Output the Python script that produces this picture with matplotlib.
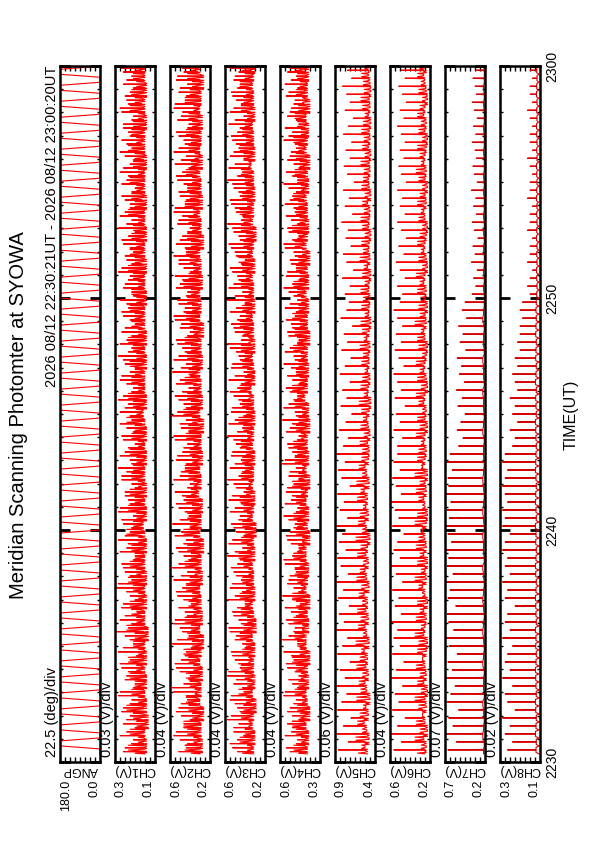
import numpy as np
import matplotlib
matplotlib.use("Agg")
import matplotlib.pyplot as plt

plt.rcParams['font.family'] = ['Liberation Sans', 'DejaVu Sans']

# ---------------- data ----------------
TITLE = "Meridian Scanning Photomter at SYOWA"
DATE_TEXT = "2026 08/12 22:30:21UT - 2026 08/12 23:00:20UT"
TIME_LABEL = "TIME(UT)"
TIME_TICKS = [0, 10, 20, 30]                 # minutes after 22:30
TIME_TICK_LABELS = ["2230", "2240", "2250", "2300"]
SCAN_START_MIN = 21 / 60.0                    # 22:30:21
SCAN_END_MIN = 30 + 20 / 60.0                 # 23:00:20

PANEL_NAMES = ["ANGP", "CH1(V)", "CH2(V)", "CH3(V)", "CH4(V)",
               "CH5(V)", "CH6(V)", "CH7(V)", "CH8(V)"]
DIV_TEXT = ["22.5 (deg)/div", "0.03 (V)/div", "0.04 (V)/div", "0.04 (V)/div",
            "0.04 (V)/div", "0.06 (V)/div", "0.04 (V)/div", "0.07 (V)/div",
            "0.02 (V)/div"]
VMAX = [180.0, 0.34, 0.57, 0.57, 0.60, 0.88, 0.56, 0.74, 0.30]
VMIN = [0.0, 0.10, 0.25, 0.25, 0.28, 0.40, 0.24, 0.18, 0.14]
VMAX_LABEL = ["180.0", "0.3", "0.6", "0.6", "0.6", "0.9", "0.6", "0.7", "0.3"]
VMIN_LABEL = ["0.0", "0.1", "0.2", "0.2", "0.3", "0.4", "0.2", "0.2", "0.1"]

# scan angle at the turning points of each scan
ANGP_TURN = [0, 180] * 44

CH1_BASE = [0.16,0.15,0.17,0.16,0.14,0.18,0.15,0.16,0.17,0.15,
            0.16,0.18,0.15,0.17,0.16,0.14,0.17,0.16,0.18,0.15,
            0.17,0.16,0.15,0.18,0.16,0.17,0.15,0.16,0.18,0.17,
            0.15,0.16,0.17,0.15,0.18,0.16,0.17,0.15,
            0.16,0.17,0.15,0.16,0.18,0.17,0.15,0.16,0.17,0.16,
            0.18,0.15,0.16,0.17,0.15,0.16,0.18,0.16,0.17,
            0.15,0.16,0.17,0.16,0.15,0.18,0.16,0.17,0.15,0.16,
            0.17,0.16,0.15,0.18,0.16,0.17,0.16,0.15,0.17,0.16,
            0.18,0.16,0.15,0.17,0.16,0.18,0.15,0.16,0.17,0.16]
CH1_PEAK = [0.29,0.24,0.31,0.22,0.27,0.30,0.25,0.32,0.23,0.28,
            0.26,0.31,0.21,0.29,0.25,0.33,0.24,0.28,0.30,0.22,
            0.27,0.32,0.25,0.29,0.23,0.31,0.26,0.28,0.24,0.30,
            0.32,0.25,0.28,0.22,0.30,0.27,0.24,0.31,
            0.26,0.29,0.23,0.31,0.25,0.28,0.32,0.24,0.27,0.30,
            0.22,0.29,0.26,0.31,0.24,0.28,0.25,0.30,0.27,
            0.23,0.29,0.26,0.32,0.24,0.28,0.25,0.30,0.22,0.27,
            0.31,0.25,0.28,0.24,0.30,0.26,0.29,0.23,0.31,0.27,
            0.25,0.29,0.24,0.30,0.26,0.28,0.23,0.27,0.29,0.25]
CH1_PEAK2 = [0.22,0.26,0.20,0.25,0.21,0.23,0.27,0.20,0.24,0.22,
             0.25,0.21,0.26,0.20,0.23,0.22,0.27,0.21,0.24,0.25,
             0.20,0.23,0.26,0.21,0.25,0.22,0.24,0.20,0.27,0.23,
             0.21,0.26,0.22,0.25,0.20,0.24,0.23,0.21,
             0.25,0.20,0.24,0.22,0.27,0.21,0.23,0.26,0.20,0.24,
             0.22,0.25,0.21,0.23,0.26,0.20,0.24,0.22,0.25,
             0.21,0.24,0.20,0.23,0.26,0.22,0.25,0.21,0.24,0.23,
             0.20,0.26,0.22,0.24,0.21,0.25,0.20,0.23,0.22,0.26,
             0.21,0.24,0.23,0.20,0.25,0.22,0.24,0.21,0.23,0.22]

CH2_BASE = [0.33,0.31,0.35,0.32,0.34,0.30,0.33,0.36,0.32,0.34,
            0.31,0.33,0.35,0.32,0.30,0.34,0.33,0.31,0.36,0.32,
            0.34,0.33,0.31,0.35,0.32,0.34,0.30,0.33,0.35,0.32,
            0.33,0.31,0.34,0.36,0.32,0.33,0.35,0.31,
            0.34,0.32,0.33,0.30,0.35,0.33,0.31,0.34,0.32,0.36,
            0.33,0.31,0.34,0.32,0.35,0.30,0.33,0.34,0.32,
            0.35,0.33,0.31,0.34,0.32,0.36,0.33,0.30,0.34,0.32,
            0.33,0.35,0.31,0.34,0.32,0.33,0.36,0.31,0.34,0.33,
            0.32,0.34,0.31,0.35,0.33,0.32,0.34,0.30,0.33,0.35]
CH2_PEAK = [0.50,0.43,0.54,0.46,0.41,0.52,0.48,0.44,0.55,0.42,
            0.49,0.53,0.45,0.40,0.51,0.47,0.54,0.43,0.50,0.46,
            0.52,0.44,0.48,0.55,0.42,0.50,0.46,0.53,0.41,0.49,
            0.45,0.52,0.47,0.43,0.54,0.48,0.44,0.51,
            0.46,0.53,0.42,0.49,0.55,0.44,0.50,0.47,0.52,0.41,
            0.48,0.54,0.45,0.51,0.43,0.49,0.53,0.46,0.50,
            0.44,0.52,0.47,0.41,0.50,0.54,0.45,0.49,0.43,0.51,
            0.47,0.53,0.44,0.50,0.46,0.52,0.42,0.48,0.54,0.45,
            0.50,0.43,0.51,0.47,0.53,0.44,0.49,0.52,0.46,0.48]
CH2_PEAK2 = [0.40,0.45,0.38,0.43,0.46,0.39,0.42,0.44,0.37,0.41,
             0.44,0.38,0.42,0.46,0.39,0.43,0.40,0.45,0.38,0.42,
             0.39,0.44,0.41,0.37,0.45,0.40,0.43,0.38,0.46,0.41,
             0.43,0.39,0.44,0.40,0.38,0.42,0.45,0.39,
             0.41,0.38,0.44,0.42,0.39,0.46,0.40,0.43,0.38,0.45,
             0.42,0.39,0.43,0.40,0.45,0.38,0.41,0.44,0.39,
             0.43,0.40,0.46,0.42,0.38,0.41,0.44,0.40,0.43,0.39,
             0.42,0.38,0.45,0.41,0.43,0.39,0.44,0.40,0.37,0.42,
             0.40,0.44,0.39,0.42,0.38,0.45,0.41,0.39,0.43,0.40]

CH3_BASE = [0.34,0.36,0.33,0.35,0.37,0.34,0.32,0.36,0.35,0.33,
            0.36,0.34,0.37,0.33,0.35,0.36,0.32,0.34,0.37,0.35,
            0.33,0.36,0.34,0.35,0.37,0.33,0.36,0.34,0.32,0.35,
            0.36,0.34,0.33,0.37,0.35,0.34,0.36,0.33,
            0.35,0.37,0.34,0.36,0.33,0.35,0.34,0.37,0.36,0.33,
            0.34,0.36,0.35,0.33,0.37,0.34,0.35,0.36,0.33,
            0.36,0.34,0.35,0.37,0.33,0.35,0.36,0.34,0.32,0.35,
            0.37,0.34,0.36,0.33,0.35,0.34,0.36,0.37,0.33,0.35,
            0.34,0.36,0.35,0.33,0.37,0.34,0.35,0.36,0.34,0.33]
CH3_PEAK = [0.47,0.53,0.42,0.50,0.55,0.45,0.49,0.52,0.43,0.48,
            0.54,0.46,0.51,0.41,0.49,0.53,0.44,0.50,0.47,0.55,
            0.43,0.51,0.48,0.52,0.45,0.49,0.54,0.42,0.50,0.46,
            0.53,0.44,0.51,0.48,0.55,0.43,0.49,0.52,
            0.45,0.50,0.47,0.54,0.42,0.51,0.46,0.53,0.44,0.49,
            0.52,0.45,0.48,0.55,0.43,0.50,0.47,0.53,0.41,
            0.49,0.54,0.46,0.51,0.44,0.48,0.52,0.45,0.50,0.55,
            0.43,0.49,0.53,0.46,0.51,0.47,0.54,0.42,0.50,0.48,
            0.52,0.45,0.49,0.53,0.44,0.51,0.47,0.50,0.46,0.52]
CH3_PEAK2 = [0.43,0.39,0.45,0.41,0.38,0.44,0.42,0.40,0.46,0.39,
             0.41,0.44,0.38,0.43,0.40,0.45,0.42,0.39,0.44,0.41,
             0.45,0.40,0.43,0.38,0.42,0.46,0.39,0.44,0.41,0.43,
             0.39,0.42,0.45,0.40,0.38,0.44,0.41,0.43,
             0.40,0.44,0.39,0.42,0.46,0.40,0.43,0.38,0.45,0.41,
             0.39,0.43,0.41,0.44,0.38,0.42,0.45,0.40,0.43,
             0.41,0.38,0.44,0.40,0.43,0.46,0.39,0.42,0.40,0.44,
             0.42,0.45,0.39,0.43,0.40,0.41,0.44,0.38,0.42,0.45,
             0.40,0.43,0.41,0.39,0.44,0.42,0.40,0.45,0.41,0.43]

CH4_BASE = [0.38,0.40,0.37,0.39,0.41,0.36,0.38,0.40,0.39,0.37,
            0.41,0.38,0.36,0.40,0.39,0.42,0.37,0.38,0.40,0.36,
            0.39,0.41,0.38,0.37,0.40,0.39,0.42,0.36,0.38,0.41,
            0.37,0.39,0.40,0.38,0.36,0.41,0.39,0.37,
            0.40,0.38,0.41,0.36,0.39,0.37,0.40,0.42,0.38,0.39,
            0.37,0.40,0.38,0.41,0.36,0.39,0.38,0.40,0.37,
            0.39,0.41,0.37,0.38,0.40,0.36,0.39,0.42,0.38,0.37,
            0.40,0.38,0.39,0.41,0.37,0.38,0.40,0.36,0.39,0.41,
            0.38,0.37,0.40,0.39,0.36,0.41,0.38,0.39,0.37,0.40]
CH4_PEAK = [0.52,0.47,0.56,0.50,0.45,0.54,0.49,0.57,0.46,0.53,
            0.48,0.55,0.51,0.44,0.58,0.49,0.53,0.47,0.56,0.50,
            0.45,0.54,0.52,0.48,0.57,0.46,0.51,0.55,0.49,0.53,
            0.47,0.56,0.50,0.54,0.45,0.52,0.58,0.48,
            0.53,0.46,0.55,0.50,0.47,0.57,0.49,0.52,0.45,0.54,
            0.51,0.48,0.56,0.46,0.53,0.50,0.55,0.47,0.52,
            0.49,0.57,0.45,0.54,0.51,0.48,0.56,0.50,0.53,0.46,
            0.55,0.49,0.52,0.47,0.57,0.50,0.45,0.54,0.51,0.48,
            0.53,0.56,0.47,0.52,0.49,0.55,0.46,0.51,0.54,0.50]
CH4_PEAK2 = [0.45,0.49,0.43,0.47,0.50,0.44,0.46,0.42,0.48,0.45,
             0.43,0.47,0.50,0.44,0.46,0.48,0.42,0.49,0.45,0.47,
             0.50,0.43,0.46,0.48,0.44,0.49,0.45,0.42,0.47,0.46,
             0.49,0.44,0.47,0.43,0.50,0.45,0.42,0.48,
             0.46,0.49,0.43,0.47,0.45,0.42,0.48,0.46,0.50,0.44,
             0.47,0.45,0.43,0.49,0.46,0.48,0.44,0.50,0.45,
             0.43,0.46,0.49,0.44,0.47,0.45,0.42,0.48,0.46,0.50,
             0.44,0.47,0.45,0.49,0.43,0.46,0.48,0.44,0.47,0.45,
             0.49,0.43,0.46,0.48,0.45,0.42,0.47,0.44,0.46,0.48]

CH5_BASE = [0.49,0.52,0.47,0.50,0.53,0.48,0.51,0.46,0.50,0.52,
            0.48,0.51,0.49,0.53,0.47,0.50,0.52,0.48,0.51,0.49,
            0.53,0.47,0.50,0.52,0.48,0.51,0.49,0.46,0.50,0.52,
            0.48,0.51,0.49,0.53,0.47,0.50,0.52,0.48,
            0.47,0.49,0.46,0.48,0.50,0.47,0.45,0.49,0.48,0.46,
            0.49,0.47,0.48,0.46,0.50,0.47,0.45,0.48,0.47,
            0.46,0.48,0.47,0.45,0.49,0.46,0.48,0.47,0.45,0.48,
            0.47,0.46,0.49,0.45,0.47,0.48,0.46,0.47,0.45,0.48,
            0.46,0.47,0.45,0.48,0.46,0.47,0.45,0.46,0.48,0.47]
CH5_PEAK = [0.84,0.72,0.86,0.78,0.69,0.85,0.80,0.74,0.87,0.76,
            0.82,0.70,0.85,0.79,0.73,0.86,0.77,0.83,0.71,0.84,
            0.78,0.86,0.72,0.81,0.85,0.75,0.83,0.79,0.86,0.73,
            0.82,0.77,0.85,0.70,0.80,0.84,0.76,0.86,
            0.78,0.72,0.83,0.75,0.68,0.81,0.74,0.79,0.70,0.82,
            0.76,0.69,0.80,0.73,0.77,0.67,0.81,0.74,0.71,
            0.76,0.70,0.79,0.66,0.74,0.78,0.69,0.75,0.72,0.80,
            0.67,0.76,0.71,0.78,0.65,0.73,0.77,0.70,0.75,0.68,
            0.78,0.72,0.66,0.76,0.70,0.74,0.79,0.68,0.73,0.71]
CH5_PEAK2 = [0.60,0.56,0.63,0.55,0.61,0.58,0.54,0.62,0.57,0.59,
             0.55,0.62,0.58,0.56,0.63,0.54,0.60,0.57,0.61,0.55,
             0.59,0.56,0.62,0.58,0.54,0.61,0.57,0.63,0.55,0.60,
             0.58,0.54,0.61,0.57,0.62,0.55,0.59,0.56,
             0.55,0.58,0.53,0.57,0.54,0.56,0.59,0.53,0.57,0.55,
             0.52,0.56,0.54,0.58,0.53,0.55,0.57,0.52,0.56,
             0.54,0.57,0.52,0.55,0.53,0.58,0.54,0.56,0.52,0.55,
             0.57,0.53,0.55,0.52,0.56,0.54,0.53,0.57,0.52,0.55,
             0.53,0.56,0.54,0.52,0.55,0.57,0.53,0.54,0.56,0.52]

CH6_BASE = [0.28,0.27,0.29,0.26,0.28,0.30,0.27,0.28,0.26,0.29,
            0.27,0.28,0.30,0.27,0.26,0.29,0.28,0.27,0.29,0.26,
            0.28,0.30,0.27,0.28,0.26,0.29,0.27,0.28,0.30,0.27,
            0.26,0.28,0.29,0.27,0.28,0.26,0.30,0.28,
            0.27,0.29,0.28,0.26,0.28,0.27,0.29,0.28,0.26,0.27,
            0.29,0.28,0.27,0.26,0.28,0.29,0.27,0.28,0.26,
            0.28,0.27,0.29,0.28,0.26,0.27,0.29,0.28,0.27,0.26,
            0.28,0.29,0.27,0.28,0.26,0.28,0.27,0.29,0.28,0.27,
            0.26,0.28,0.27,0.29,0.28,0.26,0.27,0.28,0.29,0.27]
CH6_PEAK = [0.53,0.47,0.55,0.50,0.44,0.54,0.49,0.52,0.46,0.55,
            0.51,0.45,0.54,0.48,0.53,0.50,0.55,0.47,0.52,0.49,
            0.54,0.46,0.51,0.55,0.48,0.53,0.50,0.45,0.54,0.49,
            0.52,0.55,0.47,0.51,0.54,0.48,0.53,0.50,
            0.50,0.46,0.53,0.48,0.51,0.44,0.52,0.47,0.50,0.53,
            0.45,0.49,0.52,0.47,0.51,0.46,0.50,0.53,0.48,
            0.46,0.50,0.44,0.48,0.51,0.45,0.49,0.43,0.47,0.50,
            0.44,0.48,0.46,0.50,0.43,0.47,0.49,0.45,0.48,0.44,
            0.47,0.50,0.45,0.48,0.43,0.46,0.49,0.44,0.47,0.45]
CH6_PEAK2 = [0.34,0.31,0.36,0.32,0.35,0.30,0.33,0.36,0.31,0.34,
             0.32,0.35,0.30,0.34,0.33,0.36,0.31,0.35,0.32,0.34,
             0.30,0.33,0.36,0.31,0.34,0.32,0.35,0.33,0.31,0.36,
             0.34,0.30,0.33,0.35,0.32,0.36,0.31,0.34,
             0.33,0.31,0.35,0.32,0.34,0.30,0.33,0.35,0.31,0.34,
             0.32,0.35,0.30,0.33,0.34,0.31,0.36,0.32,0.33,
             0.31,0.34,0.32,0.35,0.30,0.33,0.31,0.34,0.32,0.30,
             0.33,0.31,0.34,0.32,0.30,0.33,0.35,0.31,0.32,0.34,
             0.30,0.33,0.31,0.34,0.32,0.30,0.33,0.31,0.34,0.32]

CH7_BASE = [0.20,0.19,0.21,0.20,0.19,0.20,0.21,0.19,0.20,0.20,
            0.19,0.21,0.20,0.19,0.20,0.21,0.20,0.19,0.20,0.21,
            0.20,0.19,0.20,0.21,0.19,0.20,0.20,0.21,0.19,0.20,
            0.21,0.20,0.19,0.20,0.21,0.20,0.19,0.20,
            0.20,0.19,0.21,0.20,0.19,0.20,0.20,0.21,0.19,0.20,
            0.20,0.21,0.19,0.20,0.20,0.19,0.21,0.20,0.19,
            0.19,0.20,0.19,0.20,0.19,0.19,0.20,0.19,0.20,0.19,
            0.20,0.19,0.19,0.20,0.19,0.20,0.19,0.19,0.20,0.19,
            0.19,0.20,0.19,0.19,0.20,0.19,0.20,0.19,0.19,0.20]
CH7_PEAK = [0.70,0.58,0.72,0.63,0.69,0.55,0.71,0.66,0.60,0.72,
            0.64,0.70,0.57,0.68,0.73,0.62,0.69,0.71,0.59,0.70,
            0.67,0.72,0.63,0.71,0.69,0.73,0.65,0.70,0.72,0.68,
            0.71,0.66,0.73,0.69,0.70,0.64,0.72,0.67,
            0.55,0.49,0.57,0.52,0.46,0.56,0.50,0.58,0.47,0.54,
            0.51,0.57,0.45,0.53,0.49,0.55,0.44,0.50,0.46,
            0.36,0.31,0.34,0.29,0.37,0.32,0.35,0.28,0.33,0.36,
            0.30,0.34,0.31,0.37,0.29,0.33,0.35,0.30,0.32,0.36,
            0.31,0.34,0.29,0.33,0.36,0.30,0.32,0.35,0.31,0.33]

# CH8: value at the spike roots, the low point between spikes, and the spike tops
CH8_BASE = [0.156,0.155,0.158,0.156,0.155,0.157,0.158,0.155,0.156,0.157,
            0.158,0.156,0.155,0.157,0.156,0.158,0.155,0.156,0.157,0.158,
            0.156,0.155,0.157,0.158,0.156,0.155,0.157,0.156,0.158,0.155,
            0.156,0.158,0.157,0.155,0.156,0.158,0.157,0.156,
            0.155,0.156,0.157,0.158,0.155,0.156,0.157,0.155,0.158,0.156,
            0.155,0.157,0.156,0.155,0.157,0.156,0.155,0.156,0.155,
            0.153,0.152,0.153,0.154,0.152,0.153,0.152,0.154,0.153,0.152,
            0.153,0.152,0.154,0.153,0.152,0.153,0.154,0.152,0.153,0.152,
            0.153,0.154,0.152,0.153,0.152,0.154,0.153,0.152,0.153,0.152]
CH8_TROUGH = [0.144,0.143,0.145,0.144,0.143,0.144,0.145,0.143,0.144,0.144,
              0.145,0.144,0.143,0.144,0.145,0.143,0.144,0.145,0.144,0.143,
              0.144,0.145,0.143,0.144,0.144,0.145,0.143,0.144,0.145,0.144,
              0.143,0.144,0.145,0.144,0.143,0.144,0.145,0.144,
              0.144,0.143,0.145,0.144,0.144,0.143,0.145,0.144,0.143,0.144,
              0.145,0.144,0.143,0.144,0.145,0.144,0.143,0.144,0.144,
              0.145,0.144,0.145,0.146,0.144,0.145,0.145,0.144,0.146,0.145,
              0.144,0.145,0.146,0.145,0.144,0.145,0.146,0.145,0.144,0.145,
              0.145,0.144,0.146,0.145,0.144,0.145,0.146,0.145,0.144,0.145]
CH8_PEAK = [0.27,0.25,0.28,0.26,0.29,0.24,0.27,0.28,0.25,0.29,
            0.26,0.28,0.27,0.25,0.29,0.26,0.28,0.27,0.24,0.28,
            0.27,0.29,0.26,0.28,0.27,0.29,0.28,0.26,0.29,0.28,
            0.29,0.27,0.28,0.29,0.28,0.27,0.29,0.28,
            0.25,0.24,0.26,0.23,0.25,0.24,0.26,0.23,0.24,0.25,
            0.23,0.24,0.22,0.23,0.22,0.22,0.21,0.22,0.21,
            0.18,0.19,0.18,0.17,0.19,0.18,0.18,0.17,0.19,0.18,
            0.18,0.17,0.19,0.18,0.18,0.17,0.18,0.19,0.17,0.18,
            0.18,0.17,0.18,0.19,0.17,0.18,0.18,0.17,0.18,0.17]

NOISY = {1: (CH1_BASE, CH1_PEAK, CH1_PEAK2), 2: (CH2_BASE, CH2_PEAK, CH2_PEAK2),
         3: (CH3_BASE, CH3_PEAK, CH3_PEAK2), 4: (CH4_BASE, CH4_PEAK, CH4_PEAK2)}
MIXED = {5: (CH5_BASE, CH5_PEAK, CH5_PEAK2), 6: (CH6_BASE, CH6_PEAK, CH6_PEAK2)}
SPIKY = {7: (CH7_BASE, CH7_PEAK, None), 8: (CH8_BASE, CH8_PEAK, CH8_TROUGH)}

# ---------------- layout (pixels of the 595x842 page) ----------------
W, H = 595, 842
PX_LEFT0, PX_STEP, PX_W = 60, 55, 40
PX_TOP, PX_BOT = 66, 762
RED = "#ff0000"
DARK_RED = "#d40000"

fig = plt.figure(figsize=(W / 100, H / 100), dpi=100)

n_scans = len(ANGP_TURN) - 1
t_edges = np.linspace(SCAN_START_MIN, SCAN_END_MIN, n_scans + 1)
dt = t_edges[1] - t_edges[0]


def angp_series(turns):
    # the mirror rests at each end, then sweeps across
    a = np.asarray(turns, dtype=float)
    tk = t_edges[:-1]
    t = np.column_stack([tk, tk + 0.62 * dt]).ravel()
    v = np.column_stack([a[:-1], a[:-1]]).ravel()
    return np.append(t, t_edges[-1]), np.append(v, a[-1])


def build(pattern, cols):
    """pattern: list of (fraction of scan, column key)."""
    first = pattern[0][1]
    n = len(cols['b'])
    tk = t_edges[:n]
    t = np.column_stack([tk + f * dt for f, _ in pattern]).ravel()
    v = np.column_stack([cols[k] for _, k in pattern]).ravel()
    return np.append(t, t_edges[n]), np.append(v, cols[first][-1])


def columns(base, peak, extra=None):
    n = min(len(base), len(peak), n_scans)
    b = np.asarray(base[:n], dtype=float)
    p = np.asarray(peak[:n], dtype=float)
    c = {'b': b, 'b1': np.roll(b, -1), 'p': p, 'p5': np.roll(p, 5)}
    if extra is not None:
        q = np.asarray(extra[:n], dtype=float)
        c['q'] = q
        c['q1'] = np.roll(q, -1)
    return c


PAT_NOISY = [(0.00, 'b'), (0.08, 'q'), (0.16, 'b1'), (0.24, 'b'), (0.28, 'p'),
             (0.32, 'b1'), (0.48, 'q1'), (0.60, 'b'), (0.70, 'b1'), (0.76, 'p5'),
             (0.82, 'b')]
PAT_MIXED = [(0.00, 'b'), (0.10, 'q'), (0.20, 'b1'), (0.30, 'b'), (0.44, 'b1'),
             (0.50, 'p'), (0.56, 'b'), (0.70, 'q1'), (0.82, 'b1')]
PAT_SPIKY = [(0.00, 'b'), (0.44, 'b'), (0.50, 'p'), (0.56, 'b')]
PAT_SPIKY_U = [(0.00, 'q'), (0.18, 'b'), (0.40, 'b'), (0.46, 'b'), (0.50, 'p'),
               (0.54, 'b'), (0.62, 'b'), (0.82, 'b')]

for i, name in enumerate(PANEL_NAMES):
    x0 = PX_LEFT0 + PX_STEP * i
    ax = fig.add_axes([x0 / W, 1 - PX_BOT / H, PX_W / W, (PX_BOT - PX_TOP) / H])

    color = RED
    if i == 0:
        t, v = angp_series(ANGP_TURN)
    elif i in NOISY:
        t, v = build(PAT_NOISY, columns(*NOISY[i]))
    elif i in MIXED:
        t, v = build(PAT_MIXED, columns(*MIXED[i]))
    else:
        base, peak, extra = SPIKY[i]
        pat = PAT_SPIKY if extra is None else PAT_SPIKY_U
        t, v = build(pat, columns(base, peak, extra))
        color = DARK_RED
    ax.plot(v, t, color=color, lw=0.8)

    ax.set_xlim(VMAX[i], VMIN[i])
    ax.set_ylim(TIME_TICKS[0], TIME_TICKS[-1])

    for s in ax.spines.values():
        s.set_linewidth(1.8)
        s.set_zorder(3)

    # value axis: labels at both edges, 8 divisions
    ax.set_xticks([VMAX[i], VMIN[i]], [VMAX_LABEL[i], VMIN_LABEL[i]])
    div = (VMAX[i] - VMIN[i]) / 8.0
    ax.set_xticks([VMIN[i] + div * k for k in range(1, 8)], minor=True)
    ax.tick_params(axis='x', which='major', length=0, pad=13, labelsize=9,
                   labelrotation=90)
    ax.tick_params(axis='x', which='minor', direction='in', top=True,
                   bottom=True, length=3.5, width=1.0)
    lbls = ax.get_xticklabels()
    lbls[0].set_ha('left')
    lbls[1].set_ha('right')
    ax.set_xlabel(name, rotation=180, fontsize=9, va='center')
    ax.xaxis.set_label_coords(0.5, -8 / (PX_BOT - PX_TOP))

    # time axis
    ax.set_yticks(TIME_TICKS, TIME_TICK_LABELS)
    ax.set_yticks(np.arange(TIME_TICKS[0], TIME_TICKS[-1] + 1, 1), minor=True)
    ax.tick_params(axis='y', which='major', direction='in', left=True,
                   right=True, length=7, width=2.0)
    ax.tick_params(axis='y', which='minor', direction='in', left=True,
                   right=True, length=2.5, width=1.0)
    if i == len(PANEL_NAMES) - 1:
        ax.tick_params(axis='y', which='major', labelleft=False, labelright=True,
                       labelsize=10, labelrotation=90, pad=4)
        for lb in ax.get_yticklabels():
            lb.set_va('center')
    else:
        ax.tick_params(axis='y', which='major', labelleft=False, labelright=False)

    fig.text((x0 - 8) / W, 1 - 757 / H, DIV_TEXT[i], rotation=90,
             ha='center', va='bottom', fontsize=10.5)

fig.text(571 / W, 1 - 415 / H, TIME_LABEL, rotation=90, ha='center',
         va='center', fontsize=11.5)
fig.text(19 / W, 1 - 415 / H, TITLE, rotation=90, ha='center', va='center',
         fontsize=14.5)
fig.text(52 / W, 1 - PX_TOP / H, DATE_TEXT, rotation=90, ha='center',
         va='top', fontsize=10.5)

fig.savefig("out.png", dpi=100)
